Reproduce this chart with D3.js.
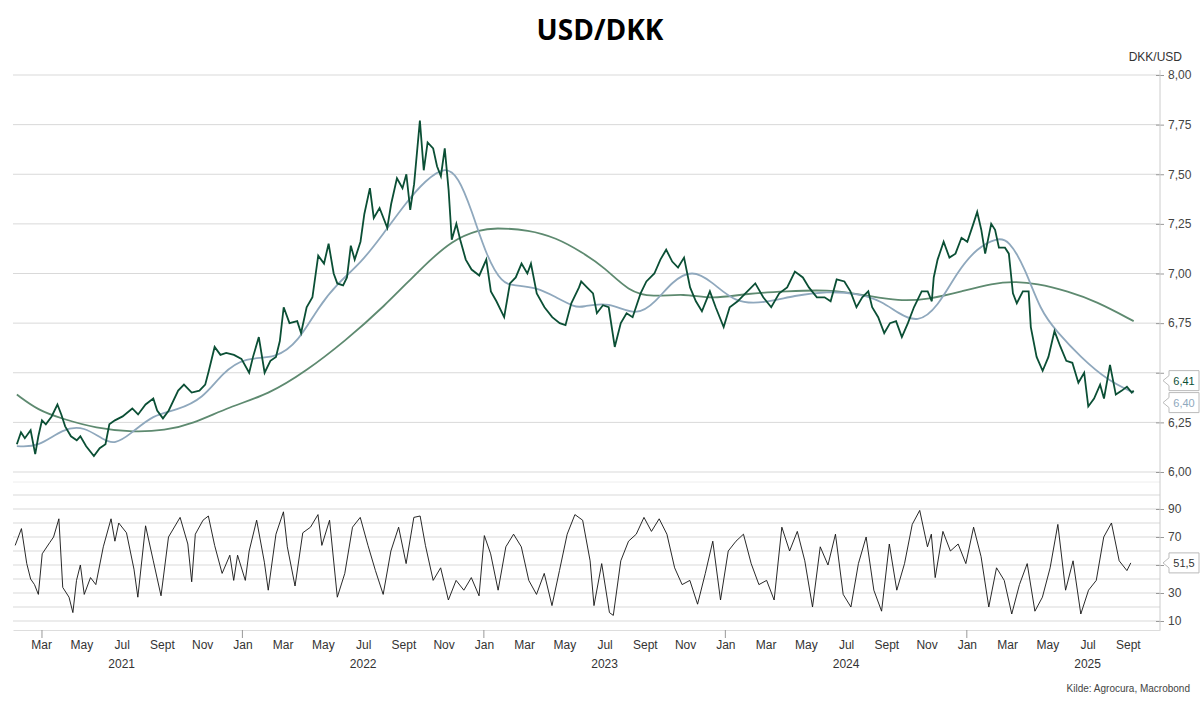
<!DOCTYPE html>
<html><head><meta charset="utf-8">
<script src="https://cdn.jsdelivr.net/npm/d3@7"></script>
<style>body{margin:0;background:#fff}text{font-family:"Liberation Sans Narrow","Liberation Sans",Lato,sans-serif}</style>
</head><body>
<svg id="chart" width="1200" height="703"></svg>
<script>
// USD/DKK kurs (decimalår, værdi)
const spot = [
[2021.066,6.14],[2021.083,6.20],[2021.099,6.17],[2021.123,6.21],[2021.142,6.09],[2021.155,6.18],[2021.170,6.26],[2021.186,6.24],[2021.210,6.28],[2021.234,6.34],
[2021.250,6.29],[2021.266,6.23],[2021.290,6.18],[2021.314,6.16],[2021.329,6.18],[2021.353,6.13],[2021.385,6.08],[2021.409,6.12],[2021.433,6.14],[2021.449,6.24],
[2021.472,6.26],[2021.504,6.28],[2021.544,6.32],[2021.568,6.29],[2021.599,6.34],[2021.631,6.37],[2021.647,6.31],[2021.671,6.27],[2021.695,6.31],[2021.734,6.41],
[2021.758,6.44],[2021.790,6.40],[2021.822,6.41],[2021.846,6.44],[2021.861,6.51],[2021.885,6.63],[2021.909,6.59],[2021.933,6.60],[2021.965,6.59],[2021.996,6.57],
[2022.028,6.50],[2022.044,6.58],[2022.068,6.68],[2022.092,6.50],[2022.116,6.56],[2022.139,6.58],[2022.155,6.66],[2022.171,6.83],[2022.195,6.75],[2022.227,6.76],
[2022.243,6.70],[2022.266,6.83],[2022.290,6.88],[2022.314,7.09],[2022.338,7.05],[2022.357,7.15],[2022.378,7.00],[2022.393,6.95],[2022.417,6.94],[2022.433,6.98],
[2022.449,7.14],[2022.465,7.07],[2022.489,7.16],[2022.505,7.30],[2022.528,7.43],[2022.544,7.28],[2022.568,7.33],[2022.600,7.23],[2022.616,7.35],[2022.640,7.48],
[2022.663,7.43],[2022.679,7.50],[2022.695,7.32],[2022.711,7.45],[2022.735,7.77],[2022.751,7.52],[2022.767,7.66],[2022.790,7.63],[2022.806,7.54],[2022.822,7.49],
[2022.838,7.63],[2022.854,7.42],[2022.867,7.17],[2022.886,7.25],[2022.902,7.17],[2022.925,7.07],[2022.949,7.02],[2022.981,6.99],[2023.010,7.07],[2023.029,6.91],
[2023.052,6.86],[2023.084,6.78],[2023.108,6.95],[2023.132,6.98],[2023.156,7.05],[2023.180,7.00],[2023.195,7.05],[2023.219,6.90],[2023.251,6.83],[2023.283,6.78],
[2023.314,6.75],[2023.338,6.74],[2023.362,6.85],[2023.394,6.93],[2023.403,6.96],[2023.427,6.93],[2023.452,6.90],[2023.468,6.80],[2023.493,6.84],[2023.517,6.83],
[2023.542,6.63],[2023.567,6.75],[2023.591,6.80],[2023.616,6.78],[2023.649,6.90],[2023.673,6.96],[2023.706,7.00],[2023.731,7.07],[2023.755,7.12],[2023.780,7.06],
[2023.804,7.03],[2023.829,7.08],[2023.854,6.93],[2023.878,6.86],[2023.903,6.81],[2023.936,6.91],[2023.960,6.83],[2023.993,6.73],[2024.018,6.83],[2024.051,6.86],
[2024.083,6.90],[2024.124,6.95],[2024.157,6.88],[2024.190,6.83],[2024.223,6.90],[2024.256,6.93],[2024.288,7.01],[2024.321,6.98],[2024.346,6.93],[2024.379,6.88],
[2024.411,6.88],[2024.436,6.86],[2024.461,6.97],[2024.493,6.96],[2024.518,6.91],[2024.543,6.83],[2024.567,6.88],[2024.592,6.91],[2024.608,6.83],[2024.633,6.78],
[2024.658,6.70],[2024.682,6.75],[2024.707,6.76],[2024.731,6.68],[2024.756,6.75],[2024.781,6.83],[2024.813,6.91],[2024.838,6.91],[2024.855,6.86],[2024.863,6.98],
[2024.879,7.07],[2024.904,7.16],[2024.928,7.08],[2024.953,7.10],[2024.978,7.18],[2025.002,7.16],[2025.027,7.25],[2025.043,7.31],[2025.060,7.22],[2025.076,7.10],
[2025.101,7.25],[2025.117,7.22],[2025.133,7.13],[2025.158,7.13],[2025.174,7.10],[2025.191,6.90],[2025.207,6.85],[2025.232,6.91],[2025.256,6.91],[2025.265,6.73],
[2025.289,6.58],[2025.314,6.51],[2025.338,6.58],[2025.363,6.71],[2025.388,6.63],[2025.412,6.56],[2025.437,6.55],[2025.462,6.45],[2025.486,6.50],[2025.503,6.33],
[2025.527,6.37],[2025.552,6.44],[2025.568,6.37],[2025.593,6.54],[2025.617,6.39],[2025.642,6.41],[2025.663,6.43],[2025.683,6.40],[2025.691,6.41]
];
// kort glidende gennemsnit
const maShort = [
[2021.066,6.13],[2021.155,6.125],[2021.258,6.22],[2021.345,6.23],[2021.425,6.16],[2021.472,6.14],[2021.536,6.19],[2021.631,6.29],[2021.726,6.31],[2021.838,6.37],
[2021.917,6.50],[2022.012,6.58],[2022.139,6.57],[2022.234,6.66],[2022.314,6.83],[2022.393,6.95],[2022.489,7.05],[2022.584,7.20],[2022.679,7.36],[2022.759,7.47],
[2022.838,7.54],[2022.894,7.49],[2022.949,7.32],[2023.013,7.08],[2023.076,6.95],[2023.124,6.94],[2023.219,6.93],[2023.299,6.88],[2023.378,6.83],[2023.403,6.83],
[2023.517,6.86],[2023.632,6.78],[2023.714,6.86],[2023.780,6.96],[2023.862,7.02],[2023.944,6.96],[2024.042,6.85],[2024.157,6.85],[2024.288,6.89],[2024.420,6.91],
[2024.551,6.90],[2024.649,6.86],[2024.715,6.80],[2024.797,6.75],[2024.879,6.83],[2024.961,7.01],[2025.043,7.13],[2025.125,7.18],[2025.174,7.17],[2025.240,7.03],
[2025.306,6.81],[2025.371,6.71],[2025.470,6.58],[2025.585,6.46],[2025.691,6.40]
];
// langt glidende gennemsnit
const maLong = [
[2021.066,6.39],[2021.155,6.31],[2021.250,6.27],[2021.393,6.22],[2021.552,6.20],[2021.679,6.21],[2021.790,6.24],[2021.949,6.33],[2022.107,6.39],[2022.266,6.51],
[2022.425,6.66],[2022.584,6.83],[2022.743,7.03],[2022.870,7.17],[2022.981,7.22],[2023.045,7.23],[2023.187,7.22],[2023.299,7.18],[2023.403,7.11],[2023.501,7.03],
[2023.599,6.91],[2023.698,6.88],[2023.829,6.90],[2023.944,6.87],[2024.092,6.90],[2024.256,6.91],[2024.420,6.92],[2024.584,6.89],[2024.715,6.86],[2024.846,6.87],
[2024.978,6.91],[2025.109,6.95],[2025.191,6.96],[2025.289,6.95],[2025.420,6.91],[2025.535,6.86],[2025.691,6.76]
];
// RSI
const rsi = [
[2021.059,64],[2021.085,76],[2021.107,51],[2021.123,40],[2021.139,36],[2021.155,29],[2021.171,58],[2021.202,66],[2021.218,70],[2021.240,83],
[2021.256,34],[2021.282,27],[2021.298,16],[2021.313,39],[2021.329,50],[2021.345,29],[2021.371,41],[2021.393,36],[2021.424,63],[2021.456,83],
[2021.472,67],[2021.488,80],[2021.520,73],[2021.551,47],[2021.567,27],[2021.599,78],[2021.631,53],[2021.663,28],[2021.694,70],[2021.742,84],
[2021.774,65],[2021.790,38],[2021.805,72],[2021.837,82],[2021.859,85],[2021.885,64],[2021.916,44],[2021.948,57],[2021.964,39],[2021.980,57],
[2022.012,39],[2022.028,60],[2022.059,82],[2022.091,52],[2022.107,32],[2022.139,72],[2022.170,88],[2022.186,63],[2022.218,35],[2022.250,73],
[2022.282,77],[2022.313,86],[2022.329,64],[2022.361,82],[2022.393,27],[2022.424,44],[2022.456,77],[2022.488,84],[2022.520,64],[2022.551,46],
[2022.583,29],[2022.615,60],[2022.647,77],[2022.678,51],[2022.710,84],[2022.736,85],[2022.758,64],[2022.790,39],[2022.821,48],[2022.853,25],
[2022.885,39],[2022.917,32],[2022.948,41],[2022.980,28],[2023.002,71],[2023.028,58],[2023.059,32],[2023.091,63],[2023.123,72],[2023.155,63],
[2023.186,39],[2023.218,29],[2023.250,44],[2023.282,21],[2023.313,46],[2023.345,72],[2023.377,86],[2023.409,82],[2023.440,53],[2023.456,21],
[2023.488,51],[2023.520,16],[2023.536,14],[2023.567,53],[2023.599,67],[2023.631,72],[2023.663,84],[2023.694,74],[2023.726,83],[2023.758,72],
[2023.790,48],[2023.821,36],[2023.853,39],[2023.885,22],[2023.917,44],[2023.948,67],[2023.980,25],[2024.012,60],[2024.044,67],[2024.075,72],
[2024.107,51],[2024.139,36],[2024.171,39],[2024.202,25],[2024.234,77],[2024.266,60],[2024.298,74],[2024.329,53],[2024.361,20],[2024.393,63],
[2024.425,50],[2024.456,72],[2024.488,29],[2024.520,20],[2024.551,51],[2024.583,70],[2024.615,32],[2024.647,17],[2024.679,65],[2024.710,32],
[2024.742,51],[2024.774,79],[2024.805,89],[2024.837,63],[2024.853,72],[2024.869,41],[2024.901,74],[2024.932,60],[2024.964,65],[2024.996,51],
[2025.028,77],[2025.059,56],[2025.091,20],[2025.123,48],[2025.155,39],[2025.186,15],[2025.218,36],[2025.250,51],[2025.282,17],[2025.313,27],
[2025.345,48],[2025.377,79],[2025.409,32],[2025.440,53],[2025.472,15],[2025.504,32],[2025.536,39],[2025.567,70],[2025.599,80],[2025.631,53],
[2025.663,46],[2025.679,51.5]
];
const priceTicks = [6.00, 6.25, 6.50, 6.75, 7.00, 7.25, 7.50, 7.75, 8.00];
const rsiTicks = [10, 30, 50, 70, 90];
const monthNames = ["Jan","Mar","May","Jul","Sept","Nov"];
const years = [2021, 2022, 2023, 2024, 2025];
const lastSpot = 6.41, lastMa = 6.40, lastRsi = 51.5;

const svg = d3.select("#chart");
const left = 13, right = 1160;
const fmt = v => d3.format(".2f")(v).replace(".", ",");

const x = d3.scaleLinear().domain([2021.05, 2025.80]).range([left, right]);
const y = d3.scaleLinear().domain([6, 8]).range([472, 75]);
const yR = d3.scaleLinear().domain([10, 90]).range([621, 509]);

// titel
svg.append("text").attr("x", 600).attr("y", 40).attr("text-anchor", "middle")
  .style("font-family", "'Open Sans',sans-serif").style("font-size", "28px").style("font-weight", "bold").text("USD/DKK");
svg.append("text").attr("x", 1182).attr("y", 61).attr("text-anchor", "end")
  .style("font-size", "12px").style("fill", "#333").text("DKK/USD");

// gitterlinjer
svg.append("g").selectAll("line").data(priceTicks).join("line")
  .attr("x1", left).attr("x2", right).attr("y1", d => y(d)).attr("y2", d => y(d))
  .attr("stroke", "#d9d9d9");
svg.append("g").selectAll("line").data(d3.range(10, 101, 10)).join("line")
  .attr("x1", left).attr("x2", right).attr("y1", d => yR(d)).attr("y2", d => yR(d))
  .attr("stroke", "#d9d9d9");
svg.append("line").attr("x1", left).attr("x2", right).attr("y1", 482).attr("y2", 482).attr("stroke", "#eee");

// højre akser (etiketter skjult bag slutværdi-mærker: 6,50 og 50)
const yAxis = svg.append("g").attr("transform", `translate(${right},0)`)
  .call(d3.axisRight(y).tickValues(priceTicks).tickFormat(d => d === 6.5 ? "" : fmt(d)).tickSize(0).tickPadding(8));
const rAxis = svg.append("g").attr("transform", `translate(${right},0)`)
  .call(d3.axisRight(yR).tickValues(rsiTicks).tickFormat(d => d === 50 ? "" : d).tickSize(0).tickPadding(8));
[yAxis, rAxis].forEach(a => {
  a.select(".domain").remove();
  a.selectAll("text").style("font-size", "12px").style("fill", "#444").style("font-family", "'Liberation Sans Narrow',sans-serif");
  a.selectAll(".tick").append("line").attr("x1", -4).attr("x2", 4).attr("stroke", "#999");
});
svg.append("line").attr("x1", right).attr("x2", right).attr("y1", 70).attr("y2", 630).attr("stroke", "#ccc");

// x-akse
const months = [];
for (let yr = 2021; yr <= 2025; yr++) for (let m = 0; m < 12; m += 2) {
  const t = yr + m / 12;
  if (t >= 2021.1 && t <= 2025.7) months.push({ t: t, label: monthNames[m / 2] });
}
const xAxis = svg.append("g").attr("transform", "translate(0,630)")
  .call(d3.axisBottom(x).tickValues(months.map(d => d.t)).tickFormat((d, i) => months[i].label).tickSize(0).tickPadding(10));
xAxis.select(".domain").attr("stroke", "#ddd");
xAxis.selectAll("text").style("font-size", "12px").style("fill", "#333");
svg.append("g").selectAll("line").data([2021.17, 2022, 2023, 2024, 2025]).join("line")
  .attr("x1", d => x(d)).attr("x2", d => x(d)).attr("y1", 630).attr("y2", 638).attr("stroke", "#999");
svg.append("g").selectAll("text").data(years).join("text")
  .attr("x", d => x(d + 0.5)).attr("y", 668).attr("text-anchor", "middle")
  .style("font-size", "12px").style("fill", "#333").text(d => d);

// linjer
const line = d3.line().x(d => x(d[0])).y(d => y(d[1]));
const lineR = d3.line().x(d => x(d[0])).y(d => yR(d[1]));
svg.append("path").datum(maLong).attr("d", line.curve(d3.curveBasis)).attr("fill", "none").attr("stroke", "#5e8a70").attr("stroke-width", 1.8);
svg.append("path").datum(maShort).attr("d", line.curve(d3.curveBasis)).attr("fill", "none").attr("stroke", "#8fa8bd").attr("stroke-width", 1.8);
svg.append("path").datum(spot).attr("d", line.curve(d3.curveLinear)).attr("fill", "none").attr("stroke", "#0b4f35").attr("stroke-width", 1.8);
svg.append("path").datum(rsi).attr("d", lineR).attr("fill", "none").attr("stroke", "#111").attr("stroke-width", 0.9);

// slutværdi-mærker
function tag(yPos, text, color) {
  const g = svg.append("g").attr("transform", `translate(${right + 3},${yPos})`);
  g.append("path").attr("d", "M0,0 L6,-5 L6,-10 L36,-10 L36,10 L6,10 L6,5 Z")
    .attr("fill", "#fff").attr("stroke", "#bbb");
  g.append("text").attr("x", 21).attr("y", 4).attr("text-anchor", "middle")
    .style("font-size", "11px").style("fill", color).text(text);
}
tag(y(lastSpot) - 10, fmt(lastSpot), "#0b4f35");
tag(y(lastMa) + 10, fmt(lastMa), "#8fa8bd");
tag(yR(lastRsi), String(lastRsi).replace(".", ","), "#333");

svg.append("text").attr("x", 1190).attr("y", 692).attr("text-anchor", "end")
  .style("font-size", "10px").style("fill", "#444").text("Kilde: Agrocura, Macrobond");
</script>
</body></html>
